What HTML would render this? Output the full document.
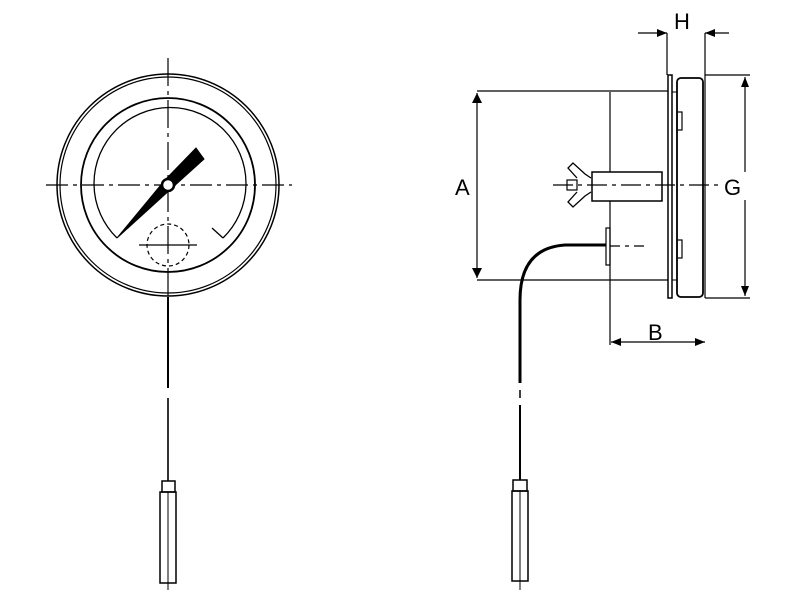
<!DOCTYPE html>
<html><head><style>body{margin:0;background:#fff}svg{display:block}text{font-family:"Liberation Sans",sans-serif;font-size:22px;fill:#000}</style></head>
<body><svg width="800" height="600" viewBox="0 0 800 600" xmlns="http://www.w3.org/2000/svg">
<defs><marker id="ar" markerWidth="10" markerHeight="8" refX="10" refY="4" orient="auto" markerUnits="userSpaceOnUse"><path d="M0,0 L10,4 L0,8 Z" fill="#000"/></marker></defs>
<g fill="none" stroke="#000" stroke-width="1.5">
<circle cx="168" cy="185" r="111"/>
<circle cx="168" cy="185" r="108" stroke-width="1.2"/>
<circle cx="168" cy="185" r="87" stroke-width="1.8"/>
<path d="M117,238 A76,76 0 1 1 223,238" stroke-width="1.3"/>
<path d="M223,238 L212,228" stroke-width="1.3"/>
<circle cx="168" cy="245" r="21" stroke-dasharray="4,3" stroke-width="1.2"/>
<line x1="139" y1="245" x2="197" y2="245" stroke-width="1.2"/>
<line x1="46" y1="185" x2="292" y2="185" stroke-width="1.2" stroke-dasharray="22,5,4,5"/>
<line x1="168" y1="58" x2="168" y2="300" stroke-width="1.2" stroke-dasharray="28,5,4,5"/>
<path d="M117,238 L165,180 L196,148 L204,159 L172,188 Z" fill="#000" stroke-width="1"/>
<circle cx="168" cy="185" r="6" fill="#fff" stroke-width="2.5"/>
<line x1="168" y1="297" x2="168" y2="388" stroke-width="2"/>
<line x1="168" y1="398" x2="168" y2="481" stroke-width="1.6"/>
<rect x="162" y="481" width="13" height="11"/>
<rect x="160" y="492" width="16" height="91"/>
<line x1="168" y1="492" x2="168" y2="590" stroke-width="1"/>
<line x1="477" y1="91" x2="668" y2="91" stroke-width="1.2"/>
<line x1="477" y1="280" x2="668" y2="280" stroke-width="1.2"/>
<line x1="477" y1="93" x2="477" y2="278" stroke-width="1.2"/>
<path d="M472,103 L477,93 L482,103 Z M472,268 L477,278 L482,268 Z" fill="#000" stroke="none"/>
<line x1="610" y1="92" x2="610" y2="172" stroke-width="1.2"/>
<line x1="610" y1="201" x2="610" y2="345" stroke-width="1.2"/>
<rect x="668" y="75" width="4" height="223" stroke-width="1.5"/>
<rect x="677" y="78" width="26" height="219" rx="4" stroke-width="1.8"/>
<rect x="677" y="112" width="5" height="18" stroke-width="1.2"/>
<rect x="677" y="240" width="5" height="18" stroke-width="1.2"/>
<line x1="672" y1="92" x2="677" y2="92" stroke-width="1"/>
<line x1="672" y1="280" x2="677" y2="280" stroke-width="1"/>
<rect x="592" y="172" width="70" height="29" stroke-width="1.5"/>
<rect x="567" y="180" width="10" height="10" stroke-width="1.2"/>
<path d="M577,178 L568,168 L573,163 L585,174 L591,178 M577,192 L568,202 L573,207 L585,196 L591,192" stroke-width="1.3"/>
<line x1="553" y1="185" x2="720" y2="185" stroke-width="1.2" stroke-dasharray="20,5,4,5"/>
<rect x="606" y="228" width="4" height="37" stroke-width="1.2"/>
<line x1="610" y1="246" x2="645" y2="246" stroke-width="1.2" stroke-dasharray="10,5,4,5"/>
<path d="M606,245 L565,245 Q520,248 520,300 L520,383" stroke-width="3"/>
<line x1="520" y1="390" x2="520" y2="398" stroke-width="1.5"/>
<line x1="520" y1="405" x2="520" y2="480" stroke-width="2"/>
<rect x="513" y="480" width="14" height="11"/>
<rect x="512" y="491" width="16" height="90"/>
<line x1="520" y1="491" x2="520" y2="590" stroke-width="1"/>
<line x1="667" y1="33" x2="667" y2="75" stroke-width="1.2"/>
<line x1="705" y1="33" x2="705" y2="298" stroke-width="1.2"/>
<line x1="638" y1="33" x2="667" y2="33" stroke-width="1.2" marker-end="url(#ar)"/>
<line x1="729" y1="33" x2="705" y2="33" stroke-width="1.2" marker-end="url(#ar)"/>
<line x1="705" y1="75" x2="750" y2="75" stroke-width="1.2"/>
<line x1="705" y1="298" x2="750" y2="298" stroke-width="1.2"/>
<line x1="745" y1="136" x2="745" y2="77" stroke-width="1.2" marker-end="url(#ar)"/>
<line x1="745" y1="200" x2="745" y2="296" stroke-width="1.2" marker-end="url(#ar)"/>
<line x1="745" y1="136" x2="745" y2="200" stroke-width="1.2"/>
<line x1="640" y1="342" x2="611" y2="342" stroke-width="1.2" marker-end="url(#ar)"/>
<line x1="640" y1="342" x2="705" y2="342" stroke-width="1.2" marker-end="url(#ar)"/>
</g>
<rect x="724" y="172" width="28" height="28" fill="#fff"/>
<text x="455" y="195">A</text>
<text x="724" y="195">G</text>
<text x="674" y="29">H</text>
<text x="648" y="340">B</text>
</svg></body></html>
